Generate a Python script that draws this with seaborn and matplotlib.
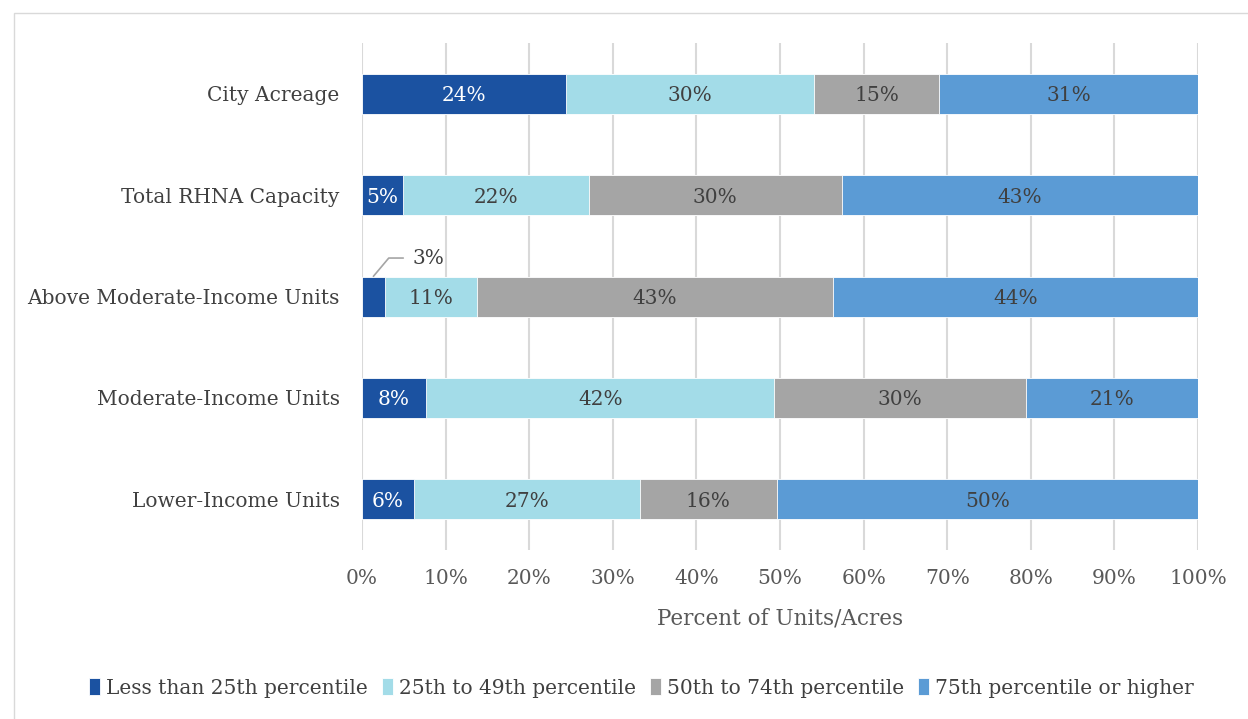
import numpy as np
import pandas as pd
import matplotlib
matplotlib.use("Agg")
import matplotlib.pyplot as plt
import seaborn as sns
from matplotlib.patches import Rectangle

categories = ["City Acreage", "Total RHNA Capacity", "Above Moderate-Income Units",
              "Moderate-Income Units", "Lower-Income Units"]
series = ["Less than 25th percentile", "25th to 49th percentile",
          "50th to 74th percentile", "75th percentile or higher"]
less_25 = [24.4, 4.9, 2.75, 7.7, 6.2]
p25_49 = [29.7, 22.2, 11.0, 41.6, 27.0]
p50_74 = [14.9, 30.3, 42.6, 30.1, 16.4]
p75_up = [31.0, 42.6, 43.65, 20.6, 50.4]
labels = [["24%", "5%", "3%", "8%", "6%"],
          ["30%", "22%", "11%", "42%", "27%"],
          ["15%", "30%", "43%", "30%", "16%"],
          ["31%", "43%", "44%", "21%", "50%"]]
colors = ["#1B52A1", "#A3DCE8", "#A5A5A5", "#5B9BD5"]
label_colors = ["white", "#404040", "#404040", "#404040"]

sns.set_theme(style="white")
plt.rcParams["font.family"] = ["DejaVu Serif"]

df = pd.DataFrame({"category": categories, series[0]: less_25, series[1]: p25_49,
                   series[2]: p50_74, series[3]: p75_up})
cum = df[series].cumsum(axis=1)

fig = plt.figure(figsize=(12.48, 7.19), dpi=100)
ax = fig.add_axes([0.290, 0.235, 0.670, 0.705])

# stacked bars: draw cumulative totals from the largest down
for i in reversed(range(len(series))):
    tmp = pd.DataFrame({"category": categories, "value": cum[series[i]]})
    sns.barplot(data=tmp, y="category", x="value", color=colors[i], orient="h",
                width=0.395, saturation=1, ax=ax, zorder=3, label=series[i],
                edgecolor="white", linewidth=0.6)

for i, s in enumerate(series):
    starts = cum[s] - df[s]
    for j in range(len(categories)):
        if i == 0 and categories[j] == "Above Moderate-Income Units":
            continue
        ax.text(starts[j] + df[s][j] / 2, j, labels[i][j], ha="center",
                va="center_baseline", color=label_colors[i], fontsize=14.5, zorder=5)

# leader-line label for the small segment
j = categories.index("Above Moderate-Income Units")
ax.annotate(labels[0][j], xy=(less_25[j] * 0.5, j - 0.2), xytext=(6.0, j - 0.4),
            ha="left", va="center_baseline", fontsize=14.5, color="#404040",
            arrowprops=dict(arrowstyle="-", color="#A5A5A5", lw=1.2, shrinkA=4, shrinkB=0,
                            connectionstyle="angle,angleA=0,angleB=50,rad=0"))

ax.set_xlim(0, 100)
ax.set_ylim(len(categories) - 0.5, -0.5)
ax.set_yticks(range(len(categories)))
ax.set_yticklabels(categories, fontsize=14.5, color="#404040")
ax.set_xticks(np.arange(0, 101, 10))
ax.set_xticklabels([f"{v}%" for v in range(0, 101, 10)], fontsize=14.5, color="#595959")
ax.tick_params(axis="y", length=0, pad=16)
ax.tick_params(axis="x", length=0, pad=14)
ax.grid(axis="x", color="#D9D9D9", linewidth=1.5, zorder=0)
ax.grid(axis="y", visible=False)
ax.set_axisbelow(True)
for sp in ax.spines.values():
    sp.set_visible(False)
ax.set_xlabel("Percent of Units/Acres", fontsize=15.5, color="#595959", labelpad=14)
ax.set_ylabel("")

h, l = ax.get_legend_handles_labels()
order = [l.index(s) for s in series]
if ax.legend_:
    ax.legend_.remove()
fig.legend([h[k] for k in order], series, loc="center", bbox_to_anchor=(0.514, 0.043),
           ncol=4, frameon=False, fontsize=14.5, handlelength=0.55, handleheight=0.9,
           handletextpad=0.3, columnspacing=0.7, labelcolor="#404040")

fig.patches.append(Rectangle((0.011, -0.01), 0.99, 0.992, transform=fig.transFigure,
                             fill=False, edgecolor="#D9D9D9", linewidth=1))

fig.savefig("out.png", dpi=100)
